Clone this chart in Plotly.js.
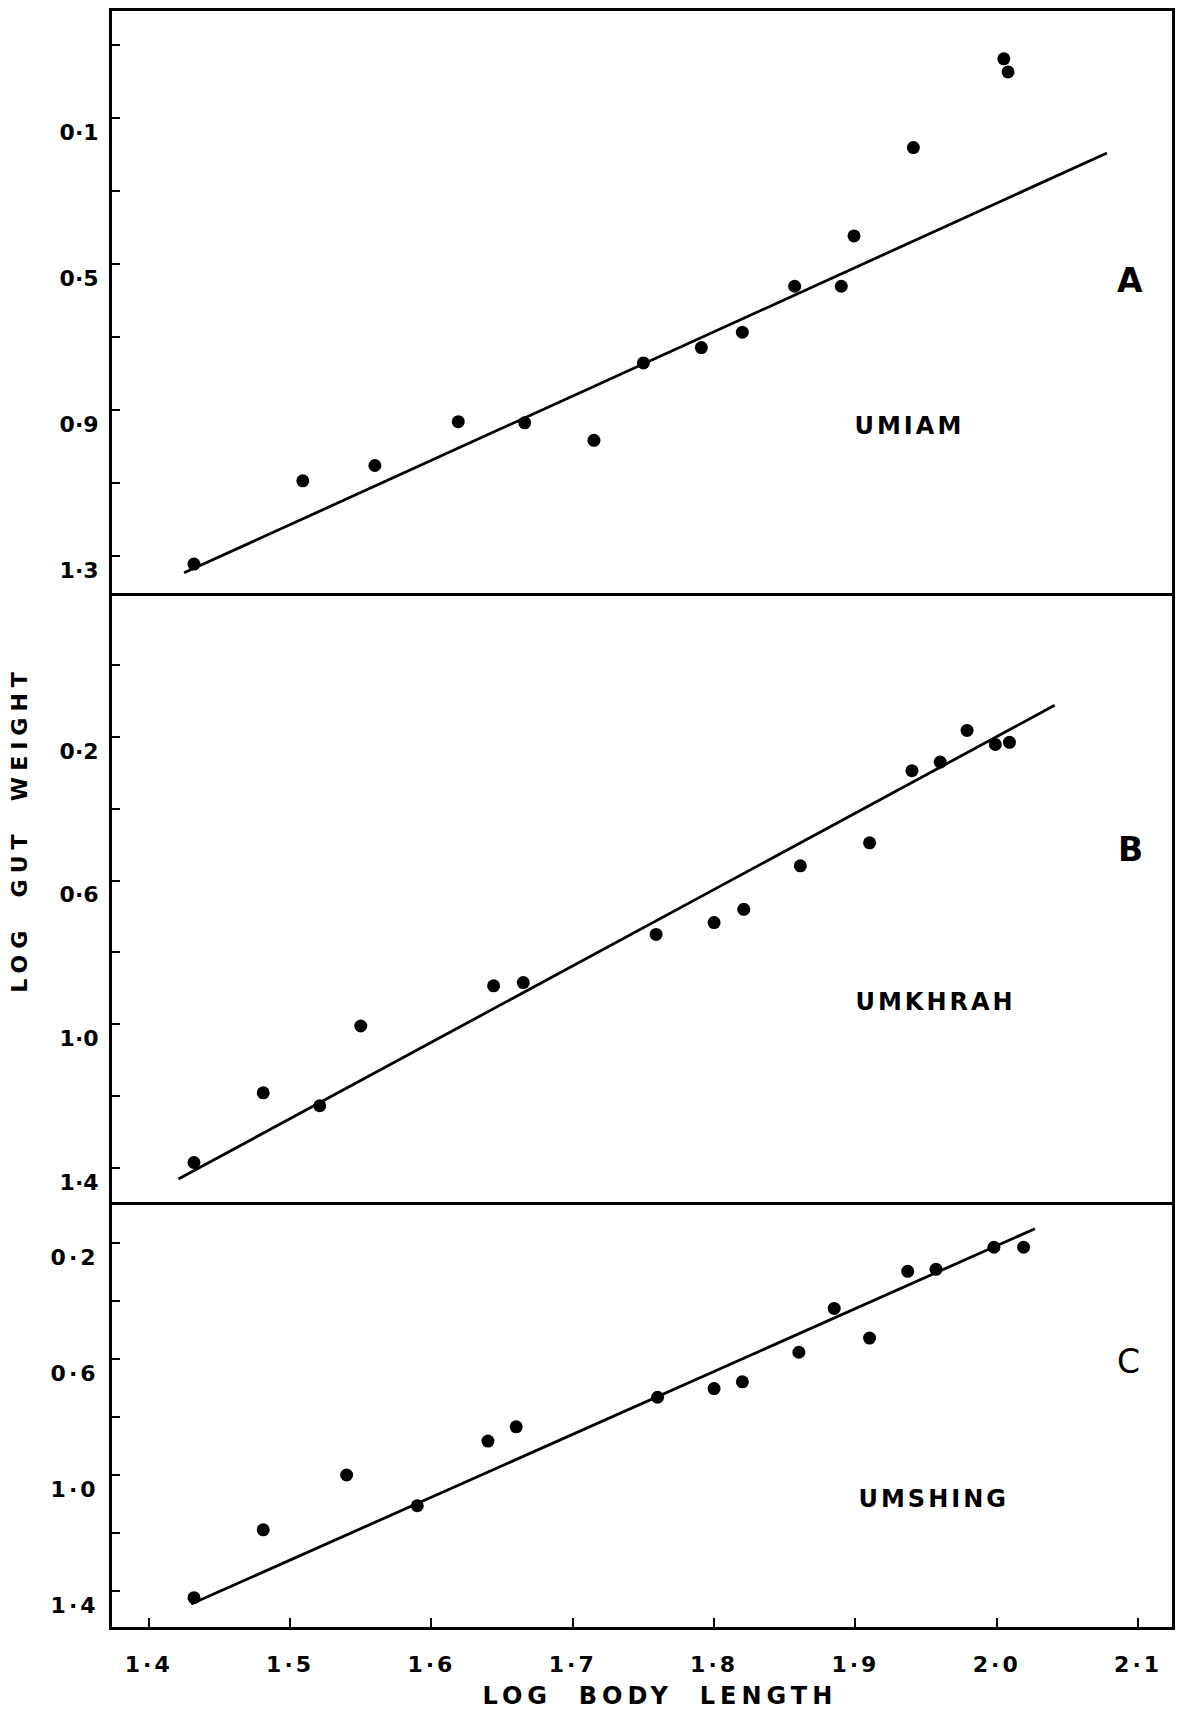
<!DOCTYPE html>
<html>
<head>
<meta charset="utf-8">
<script src="https://cdn.plot.ly/plotly-3.0.1.min.js"></script>
<style>
  html, body { margin: 0; padding: 0; background: #fff; }
  #chart { width: 1177px; height: 1714px; }
  .ytick text, .xtick text { letter-spacing: 3px; }
  g.annotation[data-index="0"] text { letter-spacing: 6px; }
  g.annotation[data-index="1"] text { letter-spacing: 5px; }
  g.annotation[data-index="2"] text, g.annotation[data-index="3"] text, g.annotation[data-index="4"] text { letter-spacing: 3px; }
</style>
</head>
<body>
<div id="chart"></div>
<script>
// ---- data ----
// x axis: log body length
const xTickVals = [1.4, 1.5, 1.6, 1.7, 1.8, 1.9, 2.0, 2.1];
const xTickText = ['1·4', '1·5', '1·6', '1·7', '1·8', '1·9', '2·0', '2·1'];

// Panel A — UMIAM
const umiamX = [1.432, 1.509, 1.560, 1.619, 1.666, 1.715, 1.750, 1.791, 1.820, 1.857, 1.890, 1.899, 1.941, 2.005, 2.008];
const umiamY = [1.322, 1.094, 1.052, 0.932, 0.935, 0.983, 0.771, 0.729, 0.687, 0.561, 0.561, 0.423, 0.181, -0.062, -0.026];
const umiamLineX = [1.425, 2.078];
const umiamLineY = [1.346, 0.196];
const aTickVals = [-0.1, 0.1, 0.3, 0.5, 0.7, 0.9, 1.1, 1.3];
const aTickText = ['', '0·1', '', '0·5', '', '0·9', '', '1·3'];

// Panel B — UMKHRAH
const umkhrahX = [1.432, 1.481, 1.521, 1.550, 1.644, 1.665, 1.759, 1.800, 1.821, 1.861, 1.910, 1.940, 1.960, 1.979, 1.999, 2.009];
const umkhrahY = [1.385, 1.191, 1.227, 1.005, 0.893, 0.884, 0.750, 0.717, 0.680, 0.559, 0.495, 0.294, 0.270, 0.182, 0.221, 0.215];
const umkhrahLineX = [1.421, 2.041];
const umkhrahLineY = [1.431, 0.112];
const bTickVals = [0.0, 0.2, 0.4, 0.6, 0.8, 1.0, 1.2, 1.4];
const bTickText = ['', '0·2', '', '0·6', '', '1·0', '', '1·4'];

// Panel C — UMSHING
const umshingX = [1.432, 1.481, 1.540, 1.590, 1.640, 1.660, 1.760, 1.800, 1.820, 1.860, 1.885, 1.910, 1.937, 1.957, 1.998, 2.019];
const umshingY = [1.423, 1.189, 1.000, 1.106, 0.883, 0.834, 0.732, 0.702, 0.679, 0.577, 0.426, 0.528, 0.298, 0.291, 0.215, 0.215];
const umshingLineX = [1.430, 2.027];
const umshingLineY = [1.445, 0.151];
const cTickVals = [0.2, 0.4, 0.6, 0.8, 1.0, 1.2, 1.4];
const cTickText = ['0·2', '', '0·6', '', '1·0', '', '1·4'];

// ---- styling ----
const FONT = 'DejaVu Sans, Liberation Sans, sans-serif';
const tickFont = {family: FONT, size: 22, color: '#000', weight: 'bold'};
const markerStyle = {color: '#000', size: 13};
const lineStyle = {color: '#000', width: 2.8};

function pts(x, y, xa, ya) {
  return {x: x, y: y, xaxis: xa, yaxis: ya, type: 'scatter', mode: 'markers',
          marker: markerStyle, hoverinfo: 'skip', showlegend: false};
}
function fit(x, y, xa, ya) {
  return {x: x, y: y, xaxis: xa, yaxis: ya, type: 'scatter', mode: 'lines',
          line: lineStyle, hoverinfo: 'skip', showlegend: false};
}

const traces = [
  fit(umiamLineX, umiamLineY, 'x3', 'y3'), pts(umiamX, umiamY, 'x3', 'y3'),
  fit(umkhrahLineX, umkhrahLineY, 'x2', 'y2'), pts(umkhrahX, umkhrahY, 'x2', 'y2'),
  fit(umshingLineX, umshingLineY, 'x', 'y'), pts(umshingX, umshingY, 'x', 'y')
];

const xRange = [1.374, 2.124];
const baseX = {range: xRange, showgrid: false, zeroline: false, showline: true,
               linecolor: '#000', linewidth: 3, fixedrange: true};
const baseY = {showgrid: false, zeroline: false, showline: true, linecolor: '#000',
               linewidth: 3, mirror: true, ticks: 'inside', ticklen: 8, tickwidth: 2,
               tickcolor: '#000', tickfont: tickFont, tickmode: 'array',
               ticklabelstandoff: 6, ticklabelshift: -14, fixedrange: true};

const layout = {
  width: 1177, height: 1714,
  margin: {l: 112, r: 5, t: 11, b: 87, pad: 0},
  paper_bgcolor: '#fff', plot_bgcolor: '#fff',
  showlegend: false,
  xaxis: Object.assign({}, baseX, {anchor: 'y', mirror: false, ticks: 'inside', ticklen: 9, tickwidth: 2,
         tickcolor: '#000', tickmode: 'array', tickvals: xTickVals, ticktext: xTickText,
         tickfont: tickFont, ticklabelstandoff: 16}),
  xaxis2: Object.assign({}, baseX, {anchor: 'y2', mirror: false, showticklabels: false, ticks: ''}),
  xaxis3: Object.assign({}, baseX, {anchor: 'y3', mirror: true, showticklabels: false, ticks: ''}),
  yaxis: Object.assign({}, baseY, {domain: [0, 0.263], range: [1.524, 0.059],
         tickvals: cTickVals, ticktext: cTickText, anchor: 'x'}),
  yaxis2: Object.assign({}, baseY, {domain: [0.263, 0.6399], range: [1.495, -0.201],
         tickvals: bTickVals, ticktext: bTickText, anchor: 'x2'}),
  yaxis3: Object.assign({}, baseY, {domain: [0.6399, 1], range: [1.401, -0.193],
         tickvals: aTickVals, ticktext: aTickText, anchor: 'x3'}),
  annotations: [
    {text: 'LOG\u00A0\u00A0GUT\u00A0\u00A0WEIGHT', xref: 'paper', yref: 'paper', x: -0.0868, y: 0.494,
     textangle: -90, showarrow: false, xanchor: 'center', yanchor: 'middle',
     font: {family: FONT, size: 22, color: '#000', weight: 'bold'}},
    {text: 'LOG\u00A0\u00A0BODY\u00A0\u00A0LENGTH', xref: 'paper', yref: 'paper', x: 0.517, y: -0.0427,
     showarrow: false, xanchor: 'center', yanchor: 'middle',
     font: {family: FONT, size: 24, color: '#000', weight: 'bold'}},
    {text: 'UMIAM', xref: 'paper', yref: 'paper', x: 0.752, y: 0.743, showarrow: false,
     xanchor: 'center', yanchor: 'middle', font: {family: FONT, size: 24, color: '#000', weight: 'bold'}},
    {text: 'UMKHRAH', xref: 'paper', yref: 'paper', x: 0.777, y: 0.387, showarrow: false,
     xanchor: 'center', yanchor: 'middle', font: {family: FONT, size: 24, color: '#000', weight: 'bold'}},
    {text: 'UMSHING', xref: 'paper', yref: 'paper', x: 0.775, y: 0.0792, showarrow: false,
     xanchor: 'center', yanchor: 'middle', font: {family: FONT, size: 24, color: '#000', weight: 'bold'}},
    {text: 'A', xref: 'paper', yref: 'paper', x: 0.960, y: 0.8335, showarrow: false,
     xanchor: 'center', yanchor: 'middle', font: {family: FONT, size: 33, color: '#000', weight: 'bold'}},
    {text: 'B', xref: 'paper', yref: 'paper', x: 0.961, y: 0.481, showarrow: false,
     xanchor: 'center', yanchor: 'middle', font: {family: FONT, size: 33, color: '#000', weight: 'bold'}},
    {text: 'C', xref: 'paper', yref: 'paper', x: 0.959, y: 0.1646, showarrow: false,
     xanchor: 'center', yanchor: 'middle', font: {family: FONT, size: 33, color: '#000'}}
  ]
};

Plotly.newPlot('chart', traces, layout, {staticPlot: true, displayModeBar: false});
</script>
</body>
</html>
